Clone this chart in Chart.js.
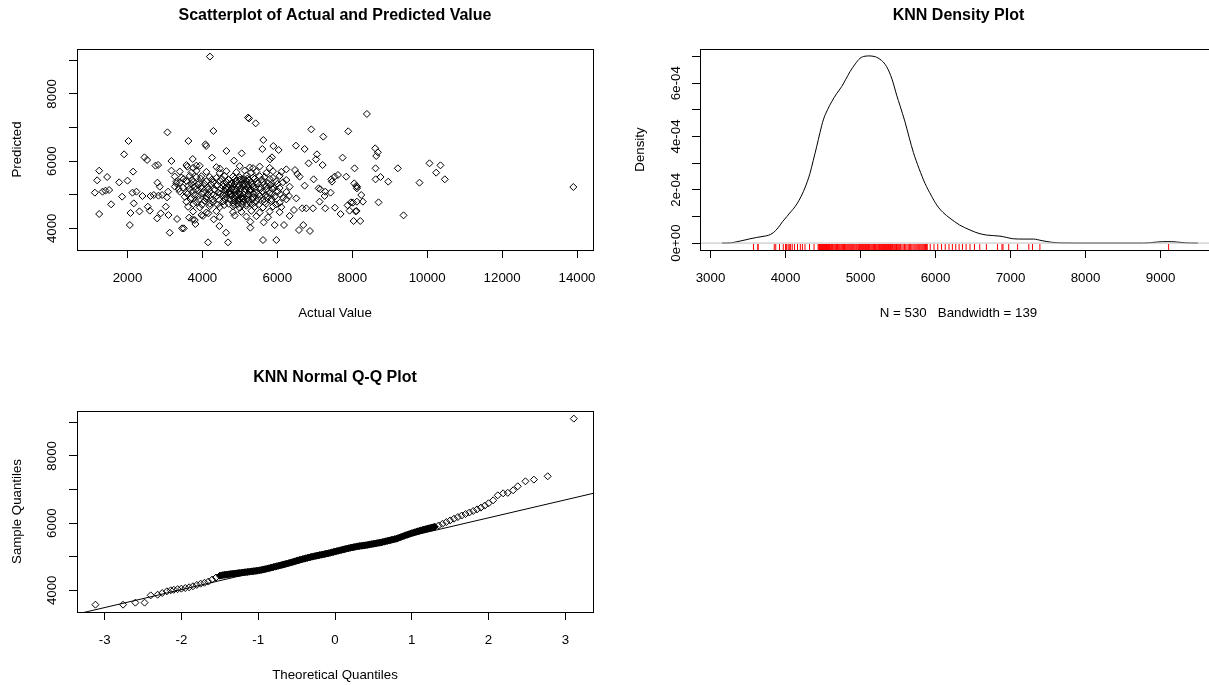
<!DOCTYPE html>
<html>
<head>
<meta charset="utf-8">
<script src="https://cdn.jsdelivr.net/npm/chart.js@4.4.1/dist/chart.umd.min.js"></script>
<style>
  html, body { margin: 0; padding: 0; background: #fff; overflow: hidden; width: 1209px; height: 685px; }
  .panel { position: absolute; }
  canvas { display: block; }
</style>
</head>
<body>
<div class="panel" style="left:0;top:0;width:604px;height:342px"><canvas id="scatterChart" width="604" height="342"></canvas></div>
<div class="panel" style="left:604px;top:0;width:624px;height:342px"><canvas id="densityChart" width="624" height="342"></canvas></div>
<div class="panel" style="left:0;top:362px;width:604px;height:342px"><canvas id="qqChart" width="604" height="342"></canvas></div>
<script>
// [actual, predicted] pairs
const scatterPairs = [
  [4200,9110],[5217,7293],[5245,7270],[5422,7124],[3066,6856],[4293,6896],[6906,6945],[7893,6886],[7227,6727],
  [2026,6598],[3626,6598],[5626,6628],[4080,6499],[4100,6450],[5600,6360],[5893,6449],[6035,6330],[6497,6459],
  [6729,6360],[4640,6301],[5049,6231],[1910,6201],[2452,6112],[2524,6033],[3173,6003],[3742,6063],[4257,6102],
  [5804,6053],[5857,6112],[4844,6013],[7057,6201],[7031,6053],[6835,5934],[7742,6102],[7209,5884],[2746,5864],
  [2817,5884],[3573,5884],[3840,5864],[1244,5715],[2150,5686],[1190,5428],[1457,5527],[1777,5368],[2000,5418],
  [1128,5061],[1333,5090],[1413,5120],[1510,5140],[1857,4942],[1564,4714],[1244,4426],[2062,4098],[2079,4456],
  [2168,4743],[2133,5061],[2239,5090],[2399,4962],[2319,4505],[2542,4644],[2595,4525],[2613,4962],[2702,4991],
  [2826,4971],[2862,5239],[2799,5358],[2924,4991],[2790,4297],[2888,4446],[3022,4644],[3057,4922],[3084,5090],
  [3093,4396],[3128,3870],[3173,5715],[3306,5338],[3368,5170],[3324,4277],[3457,3999],[3502,3999],[3644,4317],
  [3733,4267],[3813,4128],[3795,4247],[4150,3583],[4684,3583],[4631,3870],[4453,4069],[4302,4267],[4160,4446],
  [3973,4396],[5617,3652],[5973,3652],[5280,4019],[5280,4198],[5635,4178],[5929,4098],[6177,4098],[6578,3949],
  [6693,4098],[6871,3920],[6444,4545],[6666,4595],[6773,4595],[6951,4595],[7280,4595],[7538,4614],[7689,4426],
  [7876,4684],[8018,4763],[8036,4218],[8116,4515],[7840,5537],[8062,5785],[7618,5587],[7529,5537],[7440,5458],
  [7458,5388],[7102,5190],[7147,5160],[7129,4793],[7262,4962],[7422,5061],[7280,5090],[8053,5338],[8133,5239],
  [6969,5458],[6533,5616],[6595,5537],[6471,5735],[6729,5269],[6240,5755],[6240,5438],[6329,5239],[6311,4962],
  [6240,4862],[6506,4892],
  [8391,7402],[8613,6380],[8684,6261],[8640,6152],[8622,5785],[9217,5785],[10062,5934],[10355,5874],[10240,5656],
  [10471,5458],[9795,5358],[8960,5388],[8755,5527],[8622,5458],[8106,5259],[8124,5190],[8240,4991],[8284,4793],
  [8124,4793],[7964,4773],[7928,4525],[8088,4505],[8213,4218],[8702,4773],[9369,4386],[13902,5229],
  // dense core
  [3599,5834],[3751,5800],[3929,5860],[4373,5820],[4462,5780],[4995,5850],[5262,5810],[5351,5790],[5529,5840],[5795,5800],
  [3395,5690],[3706,5660],[3840,5710],[4106,5680],[4462,5650],[4640,5700],[4906,5670],[5129,5720],[5306,5660],[5440,5690],
  [5706,5650],[5884,5700],[6106,5680],
  [3262,5540],[3440,5510],[3662,5560],[3840,5520],[3973,5550],[4195,5530],[4373,5500],[4595,5560],[4817,5540],[4995,5520],
  [5173,5570],[5351,5510],[5529,5550],[5662,5530],[5884,5500],[6062,5560],
  [3500,5470],[3720,5440],[3950,5480],[4250,5450],[4520,5470],[4700,5440],[4870,5480],[5000,5450],[5110,5470],[5250,5440],
  [5400,5480],[5580,5450],[5800,5470],
  [3306,5390],[3395,5360],[3573,5410],[3751,5380],[3929,5350],[4106,5400],[4284,5370],[4462,5420],[4640,5380],[4773,5350],
  [4906,5400],[5040,5370],[5173,5410],[5306,5360],[5440,5390],[5618,5380],[5751,5350],[5973,5400],[6151,5370],
  [3700,5320],[3880,5300],[4050,5330],[4230,5310],[4400,5290],[4560,5330],[4720,5300],[4860,5320],[4980,5290],[5100,5330],
  [5220,5310],[5330,5300],[5480,5330],[5650,5310],[5820,5290],[6000,5320],
  [3262,5240],[3484,5210],[3617,5260],[3795,5230],[3973,5250],[4151,5220],[4373,5270],[4551,5240],[4684,5200],[4817,5250],
  [4951,5230],[5084,5260],[5217,5210],[5351,5240],[5529,5220],[5706,5250],[5884,5230],[6062,5200],
  [3650,5170],[3820,5150],[3990,5180],[4160,5160],[4330,5140],[4500,5180],[4650,5150],[4780,5170],[4900,5140],[5020,5180],
  [5140,5160],[5260,5150],[5390,5180],[5540,5160],[5700,5140],[5870,5170],
  [3395,5090],[3573,5060],[3751,5110],[4017,5080],[4195,5100],[4417,5070],[4595,5120],[4729,5090],[4862,5060],[4995,5100],
  [5129,5080],[5262,5110],[5440,5070],[5618,5090],[5795,5060],[6017,5100],[6240,5080],
  [3600,5020],[3800,5000],[3980,5030],[4150,5010],[4300,4990],[4480,5030],[4620,5000],[4750,5020],[4870,4990],[4990,5030],
  [5110,5010],[5230,5000],[5360,5030],[5500,5010],[5680,4990],[5860,5020],[6080,5010],
  [3528,4940],[3706,4910],[3884,4960],[4106,4930],[4373,4950],[4640,4920],[4773,4970],[4906,4940],[5040,4900],[5173,4950],
  [5351,4930],[5529,4960],[5706,4920],[5929,4940],[6151,4910],
  [3680,4870],[3900,4850],[4100,4880],[4280,4860],[4450,4840],[4600,4880],[4730,4860],[4850,4870],[4960,4850],[5080,4880],
  [5200,4860],[5330,4850],[5480,4880],[5650,4860],[5850,4870],
  [3573,4790],[3840,4770],[4062,4810],[4284,4780],[4551,4800],[4817,4760],[4951,4820],[5084,4790],[5262,4770],[5440,4800],
  [5662,4780],[5840,4810],[6062,4760],
  [3760,4720],[3990,4700],[4200,4730],[4400,4710],[4580,4690],[4700,4730],[4830,4710],[4950,4720],[5060,4700],[5180,4730],
  [5320,4710],[5500,4700],[5700,4730],[5960,4710],
  [3617,4640],[3929,4620],[4195,4660],[4462,4630],[4817,4650],[4995,4610],[5173,4670],[5395,4640],[5618,4620],[5884,4650],
  [6106,4630],
  [3751,4500],[4106,4470],[4373,4510],[4817,4480],[5040,4490],[5306,4520],[5529,4470],[5795,4500],[6062,4480],
  [4017,4370],[4462,4340],[4862,4380],[5173,4350],[5440,4360],[5751,4330],[6329,4370],
  [4850,5150],[4930,5020],[5010,5180],[5090,4880],[5150,5300],[5230,5010],[4780,5320],[4700,5060],[5300,5150],[4990,4870],
  [5050,5450],[5200,5480],[4880,4800],[5350,4900],[4620,5200],[4560,4990]
];
const actualValue = scatterPairs.map(p => p[0]);
const predictedValue = scatterPairs.map(p => p[1]);

// density curve (density in units of 1e-4)
const densityX = [3153,3250,3318,3420,3527,3615,3700,3771,3838,3900,3960,4016,4070,4126,4180,4238,4290,4326,4370,4415,
  4460,4504,4560,4615,4680,4749,4805,4860,4930,4993,5060,5126,5180,5215,5280,5348,5420,5482,5527,5593,5650,5705,5780,
  5860,5940,6016,6100,6194,6320,6460,6580,6683,6860,6950,7038,7180,7305,7420,7549,7700,7900,8700,8850,8958,9030,9087,
  9150,9216,9330,9497];
const densityY = [0,0.003,0.03,0.09,0.16,0.21,0.25,0.29,0.39,0.57,0.80,0.99,1.17,1.36,1.60,1.93,2.30,2.61,3.10,3.61,
  4.15,4.62,5.00,5.30,5.60,5.87,6.15,6.43,6.72,6.93,7.01,7.02,7.00,6.97,6.85,6.62,6.15,5.55,5.15,4.55,3.95,3.40,2.80,
  2.24,1.80,1.43,1.15,0.93,0.68,0.49,0.36,0.30,0.26,0.21,0.16,0.15,0.15,0.09,0.03,0.005,0,0,0.01,0.04,0.052,0.054,
  0.052,0.04,0.01,0].map(v => v * 1e-4);

// normal Q-Q points (sample quantiles are the sorted predictions)
const qqTheoretical = [
  -3.12,-2.76,-2.60,-2.48,-2.40,-2.31,-2.25,-2.19,-2.14,-2.10,-2.05,-2.00,-1.95,-1.90,-1.85,-1.80,-1.75,-1.70,-1.65,-1.60,-1.55,
  -1.50,-1.48,-1.46,-1.44,-1.42,-1.40,-1.38,-1.36,-1.34,-1.32,-1.30,-1.28,-1.26,-1.24,-1.22,-1.20,-1.18,-1.16,-1.14,-1.12,
  -1.10,-1.08,-1.06,-1.04,-1.02,-1.00,-0.98,-0.96,-0.94,-0.92,-0.90,-0.88,-0.86,-0.84,-0.82,-0.80,-0.78,-0.76,-0.74,-0.72,
  -0.70,-0.68,-0.66,-0.64,-0.62,-0.60,-0.58,-0.56,-0.54,-0.52,-0.50,-0.48,-0.46,-0.44,-0.42,-0.40,-0.38,-0.36,-0.34,-0.32,
  -0.30,-0.28,-0.26,-0.24,-0.22,-0.20,-0.18,-0.16,-0.14,-0.12,-0.10,-0.08,-0.06,-0.04,-0.02,0.00,0.02,0.04,0.06,0.08,
  0.10,0.12,0.14,0.16,0.18,0.20,0.22,0.24,0.26,0.28,0.30,0.32,0.34,0.36,0.38,0.40,0.42,0.44,0.46,0.48,
  0.50,0.52,0.54,0.56,0.58,0.60,0.62,0.64,0.66,0.68,0.70,0.72,0.74,0.76,0.78,0.80,0.82,0.84,0.86,0.88,
  0.90,0.92,0.94,0.96,0.98,1.00,1.02,1.04,1.06,1.08,1.10,1.12,1.14,1.16,1.18,1.20,1.22,1.24,1.26,1.28,1.30,
  1.35,1.40,1.45,1.50,1.55,1.60,1.65,1.70,1.75,1.80,1.85,1.90,1.95,2.00,2.06,2.12,2.19,2.25,2.32,2.38,2.48,2.59,2.77,3.11
];
const qqSample = [
  3573,3573,3633,3633,3850,3870,3920,3970,4000,4015,4035,4050,4068,4090,4120,4160,4198,4225,4260,4320,4380,
  4435,4444,4453,4461,4466,4472,4478,4484,4490,4495,4500,4506,4512,4518,4524,4530,4536,4541,4547,4552,
  4558,4564,4570,4576,4581,4587,4596,4606,4615,4625,4634,4646,4658,4669,4681,4693,4704,4716,4727,4739,
  4750,4762,4774,4786,4798,4810,4824,4837,4851,4864,4878,4891,4904,4916,4929,4942,4953,4965,4976,4988,
  4999,5009,5019,5028,5038,5048,5057,5067,5076,5086,5095,5106,5118,5129,5141,5152,5164,5175,5187,5198,
  5210,5221,5232,5243,5254,5265,5274,5283,5292,5301,5310,5316,5323,5329,5336,5342,5350,5358,5367,5375,
  5383,5391,5400,5408,5417,5425,5436,5447,5458,5469,5480,5491,5502,5513,5524,5535,5552,5569,5586,5603,
  5620,5636,5652,5668,5684,5700,5714,5728,5742,5756,5770,5783,5795,5808,5820,5833,5844,5856,5867,5879,5890,
  5930,5980,6030,6080,6130,6180,6225,6270,6315,6360,6408,6460,6520,6590,6678,6827,6886,6900,6976,7095,7244,7293,7392,9108
];
const qqLineTheoretical = [-3.4, 3.4];
const qqLineSample = [3273, 6905];
// stretch of the Q-Q plot where the markers overlap into a solid band
const qqSolidBand = [-1.52, 1.32];

// axis ranges and tick marks
const actualRange = [652, 14427];
const actualTicks = [2000, 4000, 6000, 8000, 10000, 12000, 14000];
const predictedRange = [3355, 9335];
const predictedTicks = [4000, 5000, 6000, 7000, 8000, 9000];
const densityXRange = [2860, 9753];
const densityXTicks = [3000, 4000, 5000, 6000, 7000, 8000, 9000];
const densityYRange = [-0.26e-4, 7.28e-4];
const densityYTicks = [0, 1e-4, 2e-4, 3e-4, 4e-4, 5e-4, 6e-4, 7e-4];
const qqRange = [-3.36, 3.36];
const qqTicks = [-3, -2, -1, 0, 1, 2, 3];

Chart.defaults.font.family = '"Liberation Sans", Arial, Helvetica, sans-serif';
Chart.defaults.font.size = 13.3;
Chart.defaults.color = '#000';

// full box around the plot region, like R's box()
const framePlugin = {
  id: 'frame',
  afterDatasetsDraw(chart) {
    const { ctx, chartArea: a } = chart;
    ctx.save();
    ctx.strokeStyle = '#000';
    ctx.lineWidth = 1;
    ctx.strokeRect(a.left + 0.5, a.top + 0.5, a.right - a.left, a.bottom - a.top);
    ctx.restore();
  }
};

function panelOptions(cfg) {
  return {
    responsive: false,
    maintainAspectRatio: false,
    animation: false,
    events: [],
    layout: { padding: { left: cfg.padLeft, right: cfg.padRight, top: 0, bottom: 0 } },
    plugins: {
      legend: { display: false },
      tooltip: { enabled: false },
      title: {
        display: true,
        text: cfg.title,
        fullSize: false,
        color: '#000',
        font: { size: 16, weight: 'bold' },
        padding: { top: 6.4, bottom: 23.4 }
      }
    },
    scales: {
      x: {
        type: 'linear',
        position: 'bottom',
        min: cfg.xRange[0],
        max: cfg.xRange[1],
        afterBuildTicks: s => { s.ticks = cfg.xTicks.map(v => ({ value: v })); },
        afterFit: s => { s.height = 92; s.paddingLeft = 0; s.paddingRight = 0; },
        border: { display: false },
        grid: { display: true, drawOnChartArea: false, drawTicks: true, tickLength: 8, color: '#000', lineWidth: 1 },
        ticks: { autoSkip: false, maxRotation: 0, padding: 12, color: '#000', callback: v => String(v) },
        title: { display: true, text: cfg.xTitle, color: '#000', padding: { top: 0, bottom: 21 } }
      },
      y: {
        type: 'linear',
        position: 'left',
        min: cfg.yRange[0],
        max: cfg.yRange[1],
        afterBuildTicks: s => { s.ticks = cfg.yTicks.map(v => ({ value: v })); },
        afterFit: s => { s.width = 77; s.paddingTop = 0; s.paddingBottom = 0; },
        border: { display: false },
        grid: { display: true, drawOnChartArea: false, drawTicks: true, tickLength: 8, color: '#000', lineWidth: 1 },
        ticks: {
          autoSkip: false, minRotation: 90, maxRotation: 90, crossAlign: 'center',
          padding: cfg.yPad, color: '#000', callback: cfg.yLabel
        },
        title: { display: true, text: cfg.yTitle, color: '#000', padding: { top: 9.5, bottom: 0 } }
      }
    }
  };
}

const evenThousands = v => (Math.round(v) % 2000 === 0 ? String(v) : '');
const markerStyle = { pointStyle: 'rectRot', pointRadius: 3.5, borderColor: '#000', borderWidth: 1, backgroundColor: 'rgba(0,0,0,0)' };

// Scatterplot of actual vs predicted
new Chart(document.getElementById('scatterChart'), {
  type: 'scatter',
  data: {
    datasets: [Object.assign({ data: actualValue.map((a, i) => ({ x: a, y: predictedValue[i] })) }, markerStyle)]
  },
  options: panelOptions({
    title: 'Scatterplot of Actual and Predicted Value',
    xTitle: 'Actual Value', yTitle: 'Predicted',
    xRange: actualRange, xTicks: actualTicks,
    yRange: predictedRange, yTicks: predictedTicks,
    yLabel: evenThousands, yPad: 2.2, padLeft: 0, padRight: 11
  }),
  plugins: [framePlugin]
});

// KNN density plot with a rug of the predictions
const rugLevel = -0.148e-4;

new Chart(document.getElementById('densityChart'), {
  type: 'scatter',
  data: {
    datasets: [
      {
        data: [{ x: densityXRange[0], y: 0 }, { x: densityXRange[1], y: 0 }],
        showLine: true, borderColor: '#bebebe', borderWidth: 1, pointRadius: 0
      },
      {
        data: densityX.map((x, i) => ({ x: x, y: densityY[i] })),
        showLine: true, borderColor: '#000', borderWidth: 1, pointRadius: 0,
        cubicInterpolationMode: 'monotone'
      },
      {
        data: qqSample.map(v => ({ x: v, y: rugLevel })),
        pointStyle: 'line', rotation: 90, pointRadius: 3,
        borderColor: '#ff0000', borderWidth: 1
      }
    ]
  },
  options: panelOptions({
    title: 'KNN Density Plot',
    xTitle: 'N = 530   Bandwidth = 139', yTitle: 'Density',
    xRange: densityXRange, xTicks: densityXTicks,
    yRange: densityYRange, yTicks: densityYTicks,
    yLabel: v => {
      const k = Math.round(v * 1e4);
      if (k % 2 !== 0) return '';
      return k === 0 ? '0e+00' : k + 'e-04';
    },
    yPad: -2.9, padLeft: 19, padRight: 11
  }),
  plugins: [framePlugin]
});

// KNN normal Q-Q plot
new Chart(document.getElementById('qqChart'), {
  type: 'scatter',
  data: {
    datasets: [
      {
        data: qqLineTheoretical.map((t, i) => ({ x: t, y: qqLineSample[i] })),
        showLine: true, borderColor: '#000', borderWidth: 1, pointRadius: 0
      },
      Object.assign({}, markerStyle, {
        data: qqTheoretical.map((t, i) => ({ x: t, y: qqSample[i] })),
        backgroundColor: ctx => {
          const t = qqTheoretical[ctx.dataIndex];
          return t >= qqSolidBand[0] && t <= qqSolidBand[1] ? '#000' : 'rgba(0,0,0,0)';
        }
      })
    ]
  },
  options: panelOptions({
    title: 'KNN Normal Q-Q Plot',
    xTitle: 'Theoretical Quantiles', yTitle: 'Sample Quantiles',
    xRange: qqRange, xTicks: qqTicks,
    yRange: predictedRange, yTicks: predictedTicks,
    yLabel: evenThousands, yPad: 2.2, padLeft: 0, padRight: 11
  }),
  plugins: [framePlugin]
});
</script>
</body>
</html>
